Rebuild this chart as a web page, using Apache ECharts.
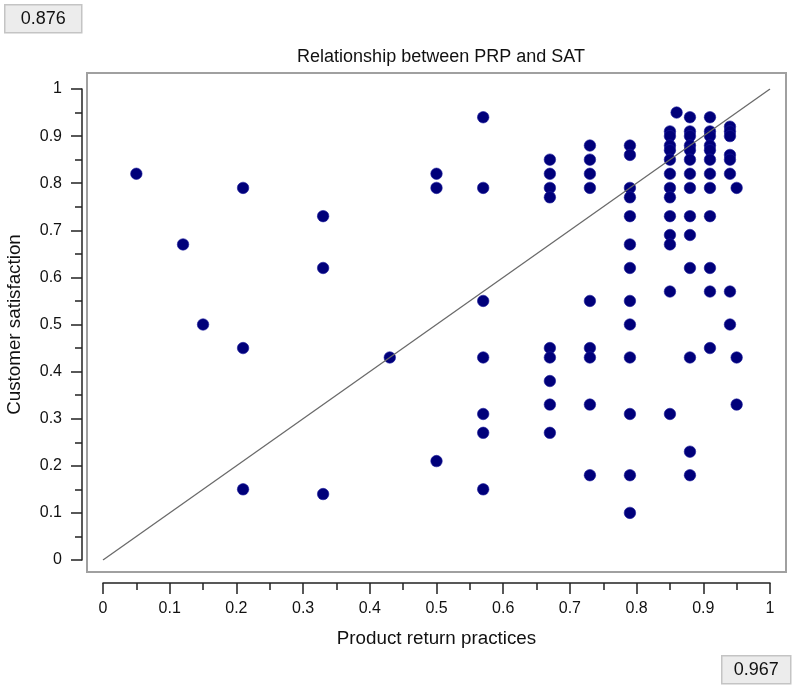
<!DOCTYPE html>
<html>
<head>
<meta charset="utf-8">
<script src="https://cdn.jsdelivr.net/npm/echarts@6/dist/echarts.min.js"></script>
<style>
html,body{margin:0;padding:0;background:#fff;}
#chart{width:792px;height:689px;}
</style>
</head>
<body>
<div id="chart"></div>
<script>
// Product return practices (x) levels and the customer satisfaction values (y) at each level
const prpLevels = [0.05, 0.12, 0.15, 0.21, 0.33, 0.43, 0.50, 0.57, 0.67, 0.73, 0.79, 0.85, 0.86, 0.88, 0.91, 0.94, 0.95];
const satColumns = [
  [0.82],
  [0.67],
  [0.50],
  [0.79, 0.45, 0.15],
  [0.73, 0.62, 0.14],
  [0.43],
  [0.82, 0.79, 0.21],
  [0.94, 0.79, 0.55, 0.43, 0.31, 0.27, 0.15],
  [0.85, 0.82, 0.79, 0.77, 0.45, 0.43, 0.38, 0.33, 0.27],
  [0.88, 0.85, 0.82, 0.79, 0.55, 0.45, 0.43, 0.33, 0.18],
  [0.88, 0.86, 0.79, 0.77, 0.73, 0.67, 0.62, 0.55, 0.50, 0.43, 0.31, 0.18, 0.10],
  [0.91, 0.90, 0.88, 0.87, 0.85, 0.82, 0.79, 0.77, 0.73, 0.69, 0.67, 0.57, 0.31],
  [0.95],
  [0.94, 0.91, 0.90, 0.88, 0.87, 0.85, 0.82, 0.79, 0.73, 0.69, 0.62, 0.43, 0.23, 0.18],
  [0.94, 0.91, 0.90, 0.88, 0.87, 0.85, 0.82, 0.79, 0.73, 0.62, 0.57, 0.45],
  [0.92, 0.91, 0.90, 0.86, 0.85, 0.82, 0.57, 0.50],
  [0.79, 0.43, 0.33]
];
const diagonal = [[0, 0], [1, 1]];
const chartTitle = 'Relationship between PRP and SAT';
const xName = 'Product return practices';
const yName = 'Customer satisfaction';
const topLeftValue = '0.876';
const bottomRightValue = '0.967';

const points = [];
prpLevels.forEach((x, i) => satColumns[i].forEach(y => points.push([x, y])));

const FONT = "'Liberation Sans', Arial, Helvetica, sans-serif";
const chart = echarts.init(document.getElementById('chart'), null, {renderer: 'canvas'});

const axisCommon = {
  type: 'value', min: 0, max: 1, interval: 0.1,
  axisLine: {show: true, onZero: false, lineStyle: {color: '#222', width: 1.5}},
  axisTick: {show: true, inside: false, length: 11, lineStyle: {color: '#222', width: 1.5}},
  minorTick: {show: true, splitNumber: 2, length: 7, lineStyle: {color: '#222', width: 1.5}},
  splitLine: {show: false},
  axisLabel: {color: '#111', fontSize: 16, fontFamily: FONT},
  nameLocation: 'middle',
  nameTextStyle: {color: '#111', fontSize: 18.8, fontFamily: FONT}
};

chart.setOption({
  animation: false,
  backgroundColor: '#fff',
  title: {
    text: chartTitle, left: 436, top: 43, textAlign: 'center',
    textStyle: {fontSize: 18, fontWeight: 'normal', color: '#111', fontFamily: FONT}
  },
  grid: {left: 103, right: 22, top: 89, bottom: 129, containLabel: false, outerBoundsMode: 'none'},
  xAxis: Object.assign({}, axisCommon, {
    offset: 23, name: xName, nameGap: 46,
    axisLabel: Object.assign({}, axisCommon.axisLabel, {margin: 18})
  }),
  yAxis: Object.assign({}, axisCommon, {
    offset: 21, name: yName, nameGap: 58,
    axisLabel: Object.assign({}, axisCommon.axisLabel, {margin: 20})
  }),
  graphic: [
    {type: 'rect', z: 0, shape: {x: 87, y: 73, width: 699, height: 499},
     style: {fill: 'none', stroke: '#a0a0a0', lineWidth: 2}},
    {type: 'group', left: 4, top: 4, children: [
      {type: 'rect', shape: {x: 0, y: 0, width: 77, height: 28},
       style: {fill: '#ececec', stroke: '#c4c4c4', lineWidth: 1.5}},
      {type: 'text', x: 38.5, y: 14,
       style: {text: topLeftValue, fill: '#111', font: '18px ' + FONT, align: 'center', verticalAlign: 'middle'}}
    ]},
    {type: 'group', left: 721, top: 655, children: [
      {type: 'rect', shape: {x: 0, y: 0, width: 69, height: 28},
       style: {fill: '#ececec', stroke: '#c4c4c4', lineWidth: 1.5}},
      {type: 'text', x: 34.5, y: 14,
       style: {text: bottomRightValue, fill: '#111', font: '18px ' + FONT, align: 'center', verticalAlign: 'middle'}}
    ]}
  ],
  series: [
    {
      type: 'scatter', data: points, symbol: 'circle', symbolSize: 11.5, z: 2,
      itemStyle: {color: '#00007a', opacity: 1, borderColor: '#1a1a9a', borderWidth: 0.6}
    },
    {
      type: 'line', data: diagonal, symbol: 'none', z: 3, silent: true,
      lineStyle: {color: '#6a6a6a', width: 1.3}
    }
  ]
});
</script>
</body>
</html>
